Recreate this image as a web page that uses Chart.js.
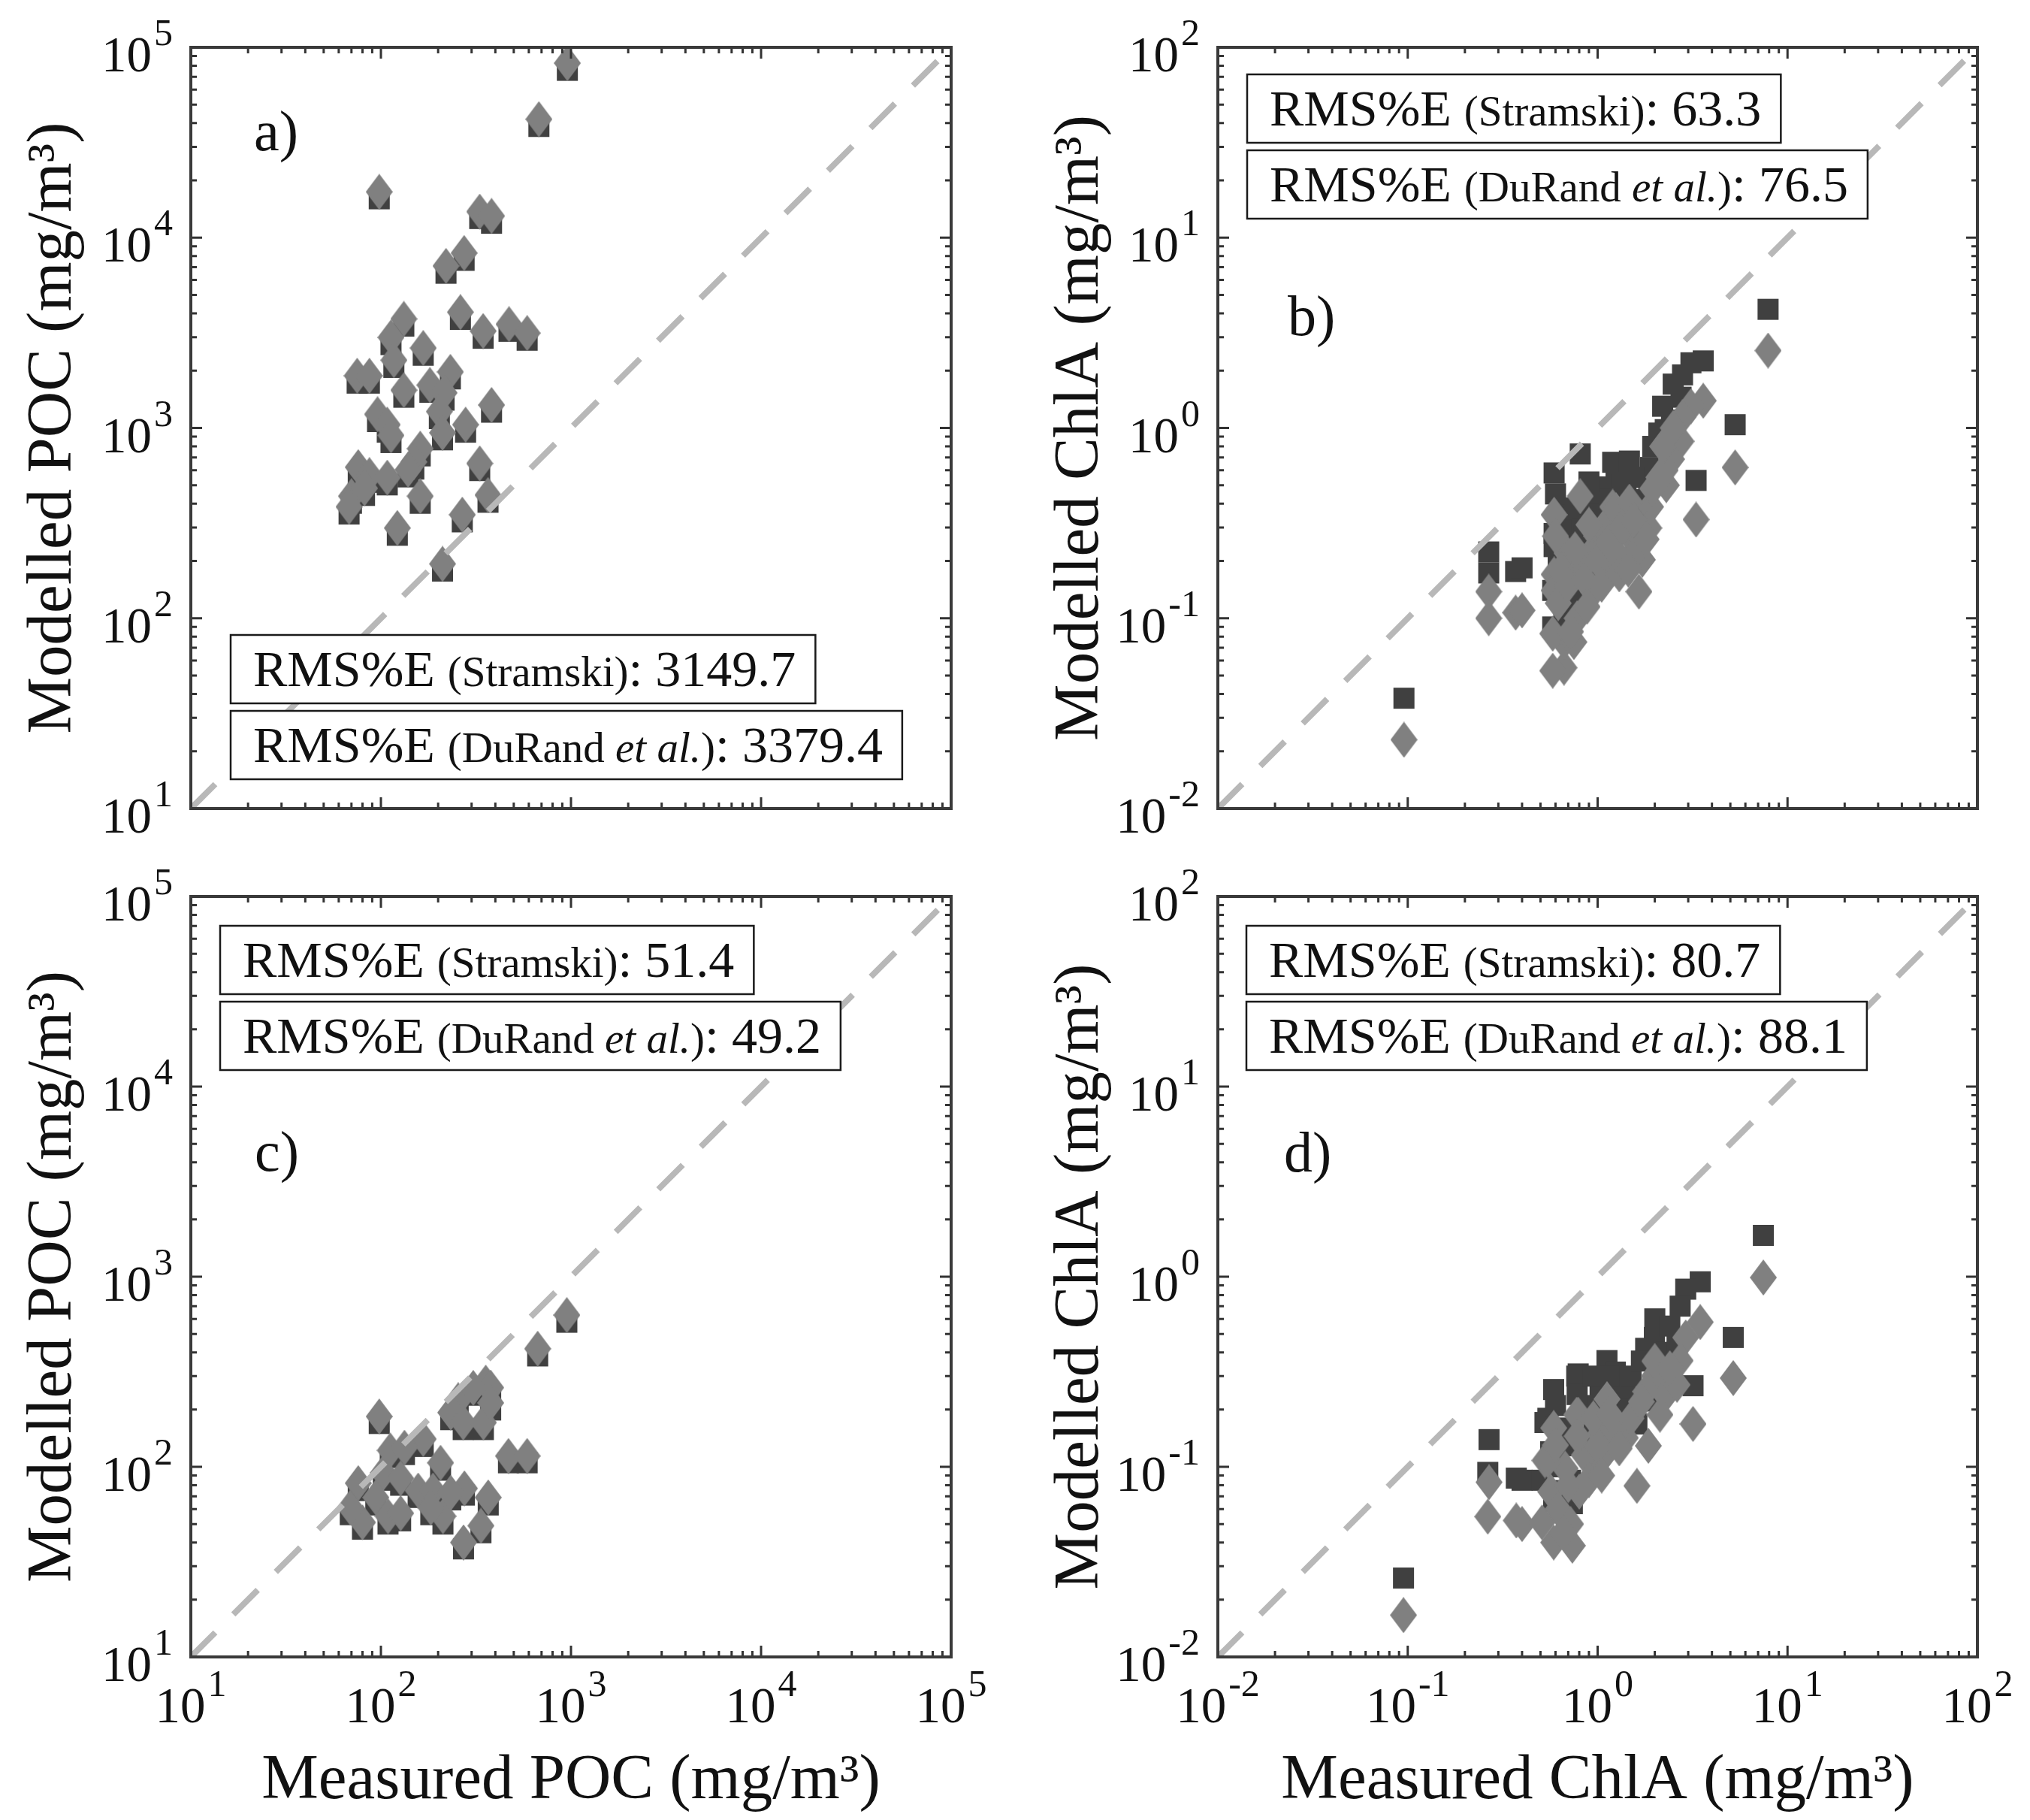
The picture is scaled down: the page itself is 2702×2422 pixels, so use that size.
<!DOCTYPE html>
<html>
<head>
<meta charset="utf-8">
<title>POC / ChlA model comparison</title>
<script src="https://cdn.jsdelivr.net/npm/chart.js@4.4.1/dist/chart.umd.min.js"></script>
<style>
  html, body { margin: 0; padding: 0; background: #fff; overflow: hidden; }
  canvas { position: absolute; left: 0; top: 0; }
</style>
</head>
<body>
<canvas id="chartA" width="2702" height="2422"></canvas>
<canvas id="chartB" width="2702" height="2422"></canvas>
<canvas id="chartC" width="2702" height="2422"></canvas>
<canvas id="chartD" width="2702" height="2422"></canvas>
<script>
// axis decades and exponent labels
var pocTicks = [10, 100, 1000, 10000, 100000];
var pocExp = ['1', '2', '3', '4', '5'];
var chlTicks = [0.01, 0.1, 1, 10, 100];
var chlExp = ['-2', '-1', '0', '1', '2'];

// a) POC, model 1
var aMeasured = [957, 678, 98, 331, 382, 220, 274, 262, 345, 472, 588, 132, 113, 117, 167, 75, 87, 132, 181, 232, 215, 203, 382, 96, 108, 113, 279, 211, 161, 149, 76, 87, 108, 139, 331, 70, 82, 161, 366, 68, 122, 268, 211];
var aStramski = [75700, 38400, 16000, 12600, 11900, 6500, 7600, 3720, 2960, 3220, 2890, 3430, 2740, 2080, 2410, 1720, 1720, 1450, 1540, 1810, 1400, 1120, 1210, 1080, 950, 838, 950, 866, 713, 608, 570, 518, 502, 553, 597, 402, 442, 402, 407, 353, 273, 321, 177];
var aDuRand = [82600, 41900, 17400, 13700, 13000, 7100, 8300, 4060, 3230, 3510, 3150, 3740, 2990, 2270, 2630, 1880, 1880, 1580, 1680, 1970, 1530, 1220, 1320, 1180, 1040, 914, 1040, 944, 778, 663, 622, 565, 548, 603, 651, 438, 482, 438, 444, 385, 298, 350, 193];
var aScores = ['3149.7', '3379.4'];

// b) ChlA, model 1
var bMeasured = [0.0955, 7.9, 5.3, 3.3, 3.6, 3.1, 2.8, 2.75, 2.1, 2.3, 2.45, 1.9, 1.86, 0.81, 1.2, 1.25, 0.59, 0.267, 0.267, 0.37, 0.40, 0.59, 0.59, 0.69, 0.665, 0.99, 1.41, 1.59, 0.81, 1.65, 0.665, 0.58, 0.58, 0.75, 0.78, 0.64, 0.95, 0.91, 1.07, 1.47, 1.72, 1.11, 2.27, 1.53,
  0.62, 0.70, 0.72, 0.85, 0.88, 1.0, 1.05, 1.15, 1.25, 1.3, 1.35, 1.45, 1.55, 1.8, 1.95, 2.2, 2.5, 0.6, 0.76, 0.9];
var bStramski = [0.038, 4.2, 1.04, 0.53, 2.25, 2.2, 1.9, 1.45, 0.94, 0.88, 1.1, 0.62, 0.5, 0.73, 0.66, 0.62, 0.58, 0.223, 0.173, 0.176, 0.184, 0.279, 0.238, 0.36, 0.094, 0.44, 0.44, 0.385, 0.30, 0.26, 0.114, 0.14, 0.09, 0.12, 0.165, 0.29, 0.23, 0.35, 0.49, 0.67, 0.33, 0.33, 0.98, 0.36,
  0.20, 0.25, 0.14, 0.27, 0.19, 0.33, 0.25, 0.42, 0.36, 0.28, 0.50, 0.30, 0.55, 0.42, 0.80, 1.3, 1.7, 0.45, 0.38, 0.52];
var bDuRand = [0.023, 2.55, 0.62, 0.33, 1.39, 1.3, 1.14, 0.85, 0.55, 0.5, 0.685, 0.385, 0.298, 0.438, 0.385, 0.37, 0.35, 0.138, 0.100, 0.107, 0.11, 0.17, 0.14, 0.22, 0.055, 0.27, 0.288, 0.216, 0.179, 0.138, 0.075, 0.083, 0.053, 0.075, 0.10, 0.179, 0.138, 0.216, 0.298, 0.41, 0.203, 0.203, 0.60, 0.216,
  0.12, 0.15, 0.085, 0.16, 0.115, 0.20, 0.15, 0.25, 0.22, 0.17, 0.30, 0.18, 0.33, 0.26, 0.48, 0.8, 1.0, 0.27, 0.23, 0.31];
var bScores = ['63.3', '76.5'];

// c) POC, model 2
var cMeasured = [951, 668, 98, 356, 378, 255, 233, 271, 346, 378, 306, 167, 469, 588, 275, 367, 336, 272, 112, 133, 76, 80, 69, 94, 109, 127, 103, 127, 157, 206, 188, 212, 183, 233];
var cStramski = [576, 383, 169, 254, 239, 205, 177, 157, 157, 199, 238, 128, 105, 105, 71, 63, 45, 37, 112, 116, 75, 47, 56, 63, 50, 52, 85, 80, 69, 96, 69, 50, 56, 67];
var cDuRand = [628, 418, 184, 277, 261, 224, 193, 171, 171, 217, 260, 140, 114, 114, 77, 69, 49, 40, 122, 126, 82, 51, 61, 69, 55, 57, 93, 87, 75, 105, 75, 55, 61, 73];
var cScores = ['51.4', '49.2'];

// d) ChlA, model 2
var dMeasured = [0.095, 7.46, 5.18, 3.18, 3.47, 2.91, 2.72, 1.99, 1.12, 1.24, 0.79, 0.587, 1.40, 1.85, 1.61, 0.268, 0.264, 0.373, 0.40, 0.528, 0.955, 0.80, 0.65, 0.51, 2.28, 2.13, 2.62, 1.79, 1.03, 1.10, 0.675, 0.566, 0.587, 0.736, 0.547, 0.776,
  0.62, 0.70, 0.72, 0.85, 0.9, 1.0, 1.05, 1.2, 1.3, 1.5, 1.7, 0.6, 0.78, 0.95, 1.15, 2.0, 2.4, 0.66];
var dStramski = [0.026, 1.65, 0.479, 0.267, 0.94, 0.86, 0.70, 0.479, 0.362, 0.315, 0.308, 0.255, 0.238, 0.222, 0.168, 0.139, 0.0935, 0.0872, 0.085, 0.171, 0.18, 0.142, 0.129, 0.085, 0.40, 0.32, 0.45, 0.42, 0.25, 0.20, 0.16, 0.12, 0.066, 0.064, 0.18, 0.30,
  0.10, 0.13, 0.085, 0.19, 0.14, 0.21, 0.15, 0.26, 0.20, 0.30, 0.36, 0.21, 0.24, 0.30, 0.30, 0.60, 0.55, 0.075];
var dDuRand = [0.0166, 0.99, 0.293, 0.168, 0.577, 0.479, 0.362, 0.30, 0.227, 0.171, 0.188, 0.16, 0.142, 0.129, 0.0794, 0.083, 0.0547, 0.0522, 0.05, 0.108, 0.108, 0.074, 0.056, 0.051, 0.238, 0.188, 0.27, 0.249, 0.149, 0.118, 0.098, 0.074, 0.040, 0.0385, 0.108, 0.188,
  0.06, 0.08, 0.05, 0.115, 0.085, 0.13, 0.09, 0.16, 0.125, 0.18, 0.22, 0.13, 0.145, 0.18, 0.19, 0.36, 0.33, 0.045];
var dScores = ['80.7', '88.1'];

var SERIF = '"Liberation Serif", "Times New Roman", serif';
var INK = '#111';

// tall MATLAB-like diamond marker
var diamond = document.createElement('canvas');
diamond.width = 36;
diamond.height = 48;
(function () {
  var g = diamond.getContext('2d');
  g.fillStyle = '#808080';
  g.beginPath();
  g.moveTo(18, 0);
  g.lineTo(36, 24);
  g.lineTo(18, 48);
  g.lineTo(0, 24);
  g.closePath();
  g.fill();
})();

function toPoints(xs, ys) {
  var pts = [];
  for (var i = 0; i < xs.length; i++) pts.push({ x: xs[i], y: ys[i] });
  return pts;
}

function drawPow(ctx, x, base, exp, align) {
  // "10" with a raised exponent; align = 'right' (y axis) or 'center' (x axis)
  var bigFont = '67px ' + SERIF, supFont = '50px ' + SERIF;
  ctx.font = bigFont;
  var w1 = ctx.measureText('10').width;
  ctx.font = supFont;
  var w2 = ctx.measureText(exp).width;
  var gap = 3;
  var total = w1 + gap + w2;
  var x0 = align === 'right' ? x - total : x - total / 2;
  ctx.fillStyle = INK;
  ctx.textAlign = 'left';
  ctx.textBaseline = 'alphabetic';
  ctx.font = bigFont;
  ctx.fillText('10', x0, base);
  ctx.font = supFont;
  ctx.fillText(exp, x0 + w1 + gap, base - 35);
}

function drawBox(ctx, x, y, segs) {
  var w = 0;
  segs.forEach(function (s) { ctx.font = s.font; w += ctx.measureText(s.text).width; });
  var bw = w + 30 + 26, bh = 91;
  ctx.fillStyle = '#fff';
  ctx.fillRect(x, y, bw, bh);
  ctx.lineWidth = 2.5;
  ctx.strokeStyle = '#1a1a1a';
  ctx.strokeRect(x, y, bw, bh);
  var cx = x + 30;
  ctx.fillStyle = INK;
  ctx.textAlign = 'left';
  ctx.textBaseline = 'alphabetic';
  segs.forEach(function (s) {
    ctx.font = s.font;
    ctx.fillText(s.text, cx, y + 68);
    cx += ctx.measureText(s.text).width;
  });
}

function makePanel(id, p) {
  var decor = {
    id: 'decor',
    afterDatasetsDraw: function (chart) {
      var ctx = chart.ctx, area = chart.chartArea;
      var xs = chart.scales.x, ys = chart.scales.y;
      ctx.save();

      // inner ticks on all four sides
      ctx.strokeStyle = '#333';
      ctx.lineWidth = 3;
      ctx.beginPath();
      for (var i = 0; i < p.ticks.length; i++) {
        for (var k = 1; k <= 9; k++) {
          if (i === p.ticks.length - 1 && k > 1) break;
          var v = p.ticks[i] * k;
          var len = k === 1 ? 15 : 8;
          var px = xs.getPixelForValue(v), py = ys.getPixelForValue(v);
          ctx.moveTo(px, area.bottom); ctx.lineTo(px, area.bottom - len);
          ctx.moveTo(px, area.top); ctx.lineTo(px, area.top + len);
          ctx.moveTo(area.left, py); ctx.lineTo(area.left + len, py);
          ctx.moveTo(area.right, py); ctx.lineTo(area.right - len, py);
        }
      }
      ctx.stroke();

      // frame
      ctx.strokeStyle = '#3a3a3a';
      ctx.lineWidth = 4;
      ctx.strokeRect(area.left, area.top, area.right - area.left, area.bottom - area.top);

      // tick labels
      p.ticks.forEach(function (v, j) {
        drawPow(ctx, area.left - 24, ys.getPixelForValue(v) + 32, p.exps[j], 'right');
        if (p.xLabels) drawPow(ctx, xs.getPixelForValue(v), area.bottom + 87, p.exps[j], 'center');
      });

      // axis titles
      ctx.fillStyle = INK;
      ctx.font = '85px ' + SERIF;
      ctx.textAlign = 'center';
      ctx.textBaseline = 'alphabetic';
      ctx.save();
      ctx.translate(area.left - 160, (area.top + area.bottom) / 2);
      ctx.rotate(-Math.PI / 2);
      ctx.fillText(p.yTitle, 0, 0);
      ctx.restore();
      if (p.xTitle) ctx.fillText(p.xTitle, (area.left + area.right) / 2, area.bottom + 188);

      // panel letter
      ctx.textAlign = 'left';
      ctx.font = '76px ' + SERIF;
      ctx.fillText(p.letter, area.left + p.letterPos[0], area.top + p.letterPos[1]);

      // RMS%E boxes
      var big = '68px ' + SERIF, small = '57px ' + SERIF, smallIt = 'italic 57px ' + SERIF;
      drawBox(ctx, p.boxPos[0], p.boxPos[1], [
        { font: big, text: 'RMS%E ' },
        { font: small, text: '(Stramski)' },
        { font: big, text: ': ' + p.scores[0] }
      ]);
      drawBox(ctx, p.boxPos[0], p.boxPos[1] + 101, [
        { font: big, text: 'RMS%E ' },
        { font: small, text: '(DuRand ' },
        { font: smallIt, text: 'et al.' },
        { font: small, text: ')' },
        { font: big, text: ': ' + p.scores[1] }
      ]);
      ctx.restore();
    }
  };

  var lo = p.ticks[0], hi = p.ticks[p.ticks.length - 1];
  return new Chart(document.getElementById(id), {
    type: 'scatter',
    data: {
      datasets: [
        {
          type: 'line',
          label: '1:1',
          data: [{ x: lo, y: lo }, { x: hi, y: hi }],
          borderColor: '#b8b8b8',
          borderWidth: 8,
          borderDash: [46, 34],
          borderCapStyle: 'butt',
          pointRadius: 0,
          fill: false,
          order: 0
        },
        {
          label: 'DuRand et al.',
          data: toPoints(p.measured, p.durand),
          pointStyle: diamond,
          pointRadius: 20,
          order: 1
        },
        {
          label: 'Stramski',
          data: toPoints(p.measured, p.stramski),
          pointStyle: 'rect',
          pointRadius: 19.8,
          backgroundColor: '#404040',
          borderWidth: 0,
          order: 2
        }
      ]
    },
    options: {
      responsive: false,
      animation: false,
      devicePixelRatio: 1,
      layout: { padding: { left: p.area[0], top: p.area[1], right: 2702 - p.area[2], bottom: 2422 - p.area[3] } },
      plugins: { legend: { display: false }, tooltip: { enabled: false } },
      scales: {
        x: { type: 'logarithmic', min: lo, max: hi, display: false },
        y: { type: 'logarithmic', min: lo, max: hi, display: false }
      }
    },
    plugins: [decor]
  });
}

makePanel('chartA', {
  area: [254, 63, 1266, 1076], ticks: pocTicks, exps: pocExp, xLabels: false,
  yTitle: 'Modelled POC (mg/m\u00B3)', xTitle: null, letter: 'a)', letterPos: [84, 137],
  boxPos: [307, 845], scores: aScores,
  measured: aMeasured, stramski: aStramski, durand: aDuRand
});
makePanel('chartB', {
  area: [1621, 63, 2632, 1076], ticks: chlTicks, exps: chlExp, xLabels: false,
  yTitle: 'Modelled ChlA (mg/m\u00B3)', xTitle: null, letter: 'b)', letterPos: [93, 383],
  boxPos: [1660, 99], scores: bScores,
  measured: bMeasured, stramski: bStramski, durand: bDuRand
});
makePanel('chartC', {
  area: [254, 1193, 1266, 2205], ticks: pocTicks, exps: pocExp, xLabels: true,
  yTitle: 'Modelled POC (mg/m\u00B3)', xTitle: 'Measured POC (mg/m\u00B3)', letter: 'c)', letterPos: [85, 365],
  boxPos: [293, 1232], scores: cScores,
  measured: cMeasured, stramski: cStramski, durand: cDuRand
});
makePanel('chartD', {
  area: [1621, 1193, 2632, 2205], ticks: chlTicks, exps: chlExp, xLabels: true,
  yTitle: 'Modelled ChlA (mg/m\u00B3)', xTitle: 'Measured ChlA (mg/m\u00B3)', letter: 'd)', letterPos: [88, 366],
  boxPos: [1659, 1232], scores: dScores,
  measured: dMeasured, stramski: dStramski, durand: dDuRand
});
</script>
</body>
</html>
